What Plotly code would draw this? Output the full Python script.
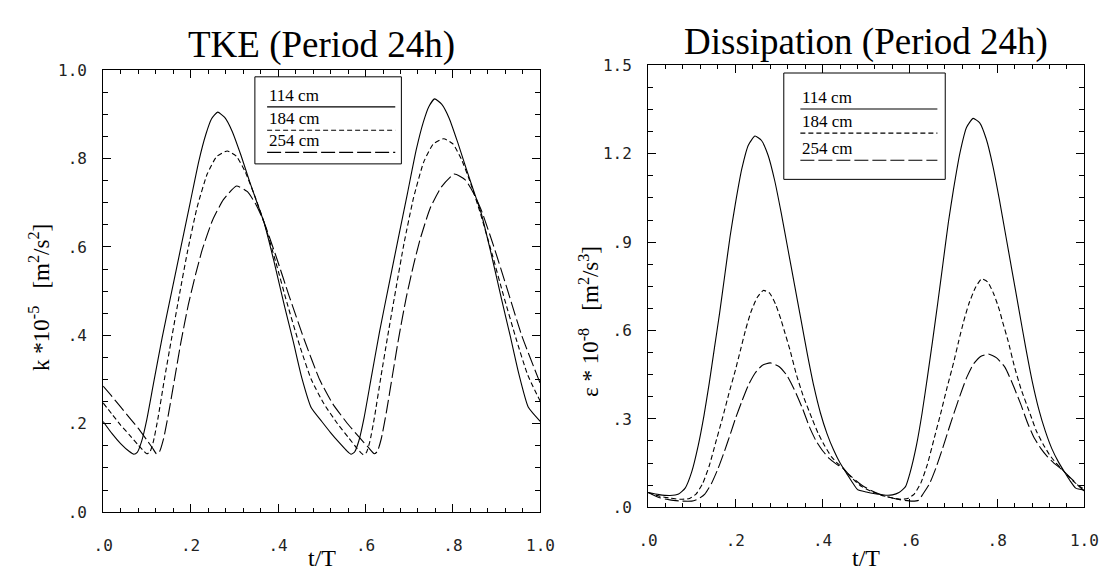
import plotly.graph_objects as go

# ---------------- TKE panel (k * 1e-5 m^2/s^2) ----------------
tke_t_114 = [0.000, 0.020, 0.040, 0.060, 0.070, 0.078, 0.088, 0.100, 0.115, 0.135, 0.157, 0.178, 0.199,
             0.219, 0.235, 0.248, 0.262, 0.278, 0.295, 0.315, 0.335, 0.352, 0.368, 0.390, 0.415, 0.435,
             0.454, 0.476, 0.500, 0.520, 0.540, 0.556, 0.567, 0.575, 0.585, 0.597, 0.612, 0.632, 0.654,
             0.675, 0.696, 0.716, 0.732, 0.745, 0.758, 0.774, 0.791, 0.811, 0.831, 0.848, 0.864, 0.886,
             0.911, 0.931, 0.950, 0.972, 1.000]
tke_114 = [0.205, 0.178, 0.155, 0.137, 0.131, 0.135, 0.160, 0.210, 0.290, 0.395, 0.500, 0.600, 0.700,
           0.795, 0.855, 0.890, 0.905, 0.893, 0.862, 0.808, 0.748, 0.700, 0.655, 0.570, 0.465, 0.385,
           0.305, 0.236, 0.205, 0.180, 0.157, 0.140, 0.131, 0.136, 0.162, 0.215, 0.298, 0.408, 0.517,
           0.620, 0.722, 0.820, 0.882, 0.918, 0.935, 0.923, 0.892, 0.836, 0.775, 0.725, 0.678, 0.590,
           0.482, 0.398, 0.315, 0.238, 0.205]

tke_t_184 = [0.000, 0.020, 0.040, 0.060, 0.080, 0.093, 0.100, 0.107, 0.115, 0.125, 0.140, 0.156, 0.175,
             0.193, 0.215, 0.238, 0.260, 0.284, 0.305, 0.325, 0.345, 0.368, 0.395, 0.420, 0.450, 0.476,
             0.505, 0.536, 0.560, 0.580, 0.595, 0.602, 0.610, 0.620, 0.635, 0.651, 0.670, 0.688, 0.710,
             0.733, 0.755, 0.779, 0.800, 0.820, 0.840, 0.863, 0.890, 0.915, 0.945, 0.971, 1.000]
tke_184 = [0.247, 0.222, 0.197, 0.175, 0.152, 0.138, 0.132, 0.136, 0.160, 0.210, 0.300, 0.390, 0.495,
           0.590, 0.690, 0.765, 0.805, 0.817, 0.805, 0.770, 0.720, 0.656, 0.565, 0.475, 0.375, 0.300,
           0.245, 0.200, 0.170, 0.145, 0.130, 0.135, 0.160, 0.212, 0.305, 0.400, 0.508, 0.608, 0.712,
           0.792, 0.833, 0.845, 0.833, 0.797, 0.745, 0.675, 0.582, 0.492, 0.390, 0.310, 0.250]

tke_t_254 = [0.000, 0.020, 0.040, 0.060, 0.080, 0.100, 0.113, 0.122, 0.129, 0.138, 0.150, 0.164, 0.178,
             0.195, 0.212, 0.227, 0.250, 0.275, 0.305, 0.330, 0.350, 0.368, 0.395, 0.425, 0.460, 0.495,
             0.525, 0.559, 0.585, 0.605, 0.620, 0.627, 0.636, 0.648, 0.662, 0.676, 0.693, 0.710, 0.725,
             0.748, 0.773, 0.803, 0.828, 0.848, 0.866, 0.893, 0.923, 0.957, 1.000]
tke_254 = [0.285, 0.262, 0.238, 0.214, 0.190, 0.163, 0.145, 0.132, 0.137, 0.165, 0.225, 0.305, 0.385,
           0.470, 0.540, 0.595, 0.660, 0.707, 0.738, 0.725, 0.695, 0.656, 0.580, 0.490, 0.390, 0.300,
           0.245, 0.200, 0.170, 0.148, 0.132, 0.137, 0.166, 0.228, 0.312, 0.395, 0.485, 0.560, 0.618,
           0.688, 0.735, 0.765, 0.752, 0.720, 0.680, 0.602, 0.508, 0.400, 0.290]

# ---------------- Dissipation panel (eps * 1e-8 m^2/s^3) ----------------
eps_t_114 = [0.000, 0.025, 0.050, 0.070, 0.085, 0.100, 0.115, 0.128, 0.140, 0.152, 0.164, 0.176, 0.188,
             0.200, 0.215, 0.230, 0.245, 0.260, 0.275, 0.290, 0.305, 0.320, 0.335, 0.350, 0.365, 0.380,
             0.395, 0.410, 0.425, 0.440, 0.455, 0.468, 0.480, 0.500, 0.520, 0.545, 0.560, 0.575, 0.590,
             0.600, 0.615, 0.628, 0.640, 0.652, 0.664, 0.676, 0.688, 0.700, 0.715, 0.730, 0.745, 0.760,
             0.775, 0.790, 0.805, 0.820, 0.835, 0.850, 0.865, 0.880, 0.895, 0.910, 0.925, 0.940, 0.955,
             0.968, 0.980, 1.000]
eps_114 = [0.050, 0.043, 0.040, 0.045, 0.065, 0.120, 0.210, 0.310, 0.420, 0.540, 0.660, 0.790, 0.920,
           1.030, 1.150, 1.230, 1.260, 1.245, 1.195, 1.110, 1.000, 0.880, 0.760, 0.640, 0.520, 0.410,
           0.320, 0.250, 0.195, 0.150, 0.115, 0.085, 0.060, 0.052, 0.046, 0.041, 0.042, 0.050, 0.070,
           0.115, 0.210, 0.320, 0.440, 0.565, 0.695, 0.830, 0.965, 1.080, 1.205, 1.290, 1.320, 1.305,
           1.250, 1.160, 1.045, 0.920, 0.795, 0.670, 0.545, 0.430, 0.335, 0.260, 0.200, 0.155, 0.118,
           0.088, 0.065, 0.058]

eps_t_184 = [0.000, 0.025, 0.050, 0.075, 0.095, 0.110, 0.125, 0.140, 0.155, 0.170, 0.185, 0.200, 0.212,
             0.223, 0.235, 0.250, 0.264, 0.278, 0.292, 0.305, 0.312, 0.325, 0.340, 0.355, 0.376, 0.390,
             0.405, 0.420, 0.435, 0.447, 0.460, 0.475, 0.490, 0.510, 0.530, 0.555, 0.580, 0.595, 0.610,
             0.625, 0.640, 0.655, 0.670, 0.685, 0.700, 0.712, 0.723, 0.735, 0.750, 0.764, 0.778, 0.792,
             0.805, 0.812, 0.825, 0.840, 0.855, 0.876, 0.890, 0.905, 0.920, 0.935, 0.947, 0.960, 0.975,
             0.990, 1.000]
eps_184 = [0.050, 0.038, 0.031, 0.027, 0.030, 0.045, 0.080, 0.140, 0.220, 0.300, 0.385, 0.465, 0.535,
           0.600, 0.660, 0.712, 0.736, 0.728, 0.690, 0.635, 0.600, 0.535, 0.450, 0.380, 0.300, 0.250,
           0.208, 0.172, 0.148, 0.133, 0.110, 0.088, 0.070, 0.055, 0.043, 0.033, 0.027, 0.030, 0.045,
           0.082, 0.145, 0.230, 0.315, 0.405, 0.490, 0.565, 0.630, 0.690, 0.745, 0.775, 0.765, 0.725,
           0.670, 0.632, 0.565, 0.475, 0.400, 0.315, 0.258, 0.215, 0.178, 0.150, 0.132, 0.110, 0.088,
           0.070, 0.062]

eps_t_254 = [0.000, 0.025, 0.050, 0.075, 0.100, 0.115, 0.130, 0.145, 0.160, 0.175, 0.190, 0.200, 0.215,
             0.230, 0.245, 0.262, 0.280, 0.300, 0.318, 0.335, 0.354, 0.370, 0.385, 0.400, 0.415, 0.430,
             0.447, 0.460, 0.475, 0.490, 0.510, 0.530, 0.555, 0.580, 0.605, 0.620, 0.630, 0.645, 0.660,
             0.675, 0.690, 0.700, 0.715, 0.730, 0.745, 0.762, 0.780, 0.798, 0.818, 0.835, 0.854, 0.870,
             0.885, 0.900, 0.915, 0.930, 0.947, 0.960, 0.975, 0.990, 1.000]
eps_254 = [0.050, 0.033, 0.025, 0.021, 0.021, 0.028, 0.045, 0.080, 0.130, 0.190, 0.255, 0.300, 0.360,
           0.415, 0.455, 0.482, 0.490, 0.478, 0.448, 0.400, 0.335, 0.272, 0.225, 0.192, 0.166, 0.148,
           0.132, 0.112, 0.092, 0.075, 0.058, 0.045, 0.033, 0.025, 0.021, 0.024, 0.045, 0.080, 0.135,
           0.200, 0.270, 0.315, 0.380, 0.440, 0.485, 0.512, 0.520, 0.508, 0.475, 0.420, 0.350, 0.285,
           0.235, 0.200, 0.172, 0.150, 0.130, 0.112, 0.090, 0.068, 0.055]

# ---------------- labels / ticks ----------------
series_names = ["114 cm", "184 cm", "254 cm"]
x_tick_vals = [0.0, 0.2, 0.4, 0.6, 0.8, 1.0]
x_tick_text = [".0", ".2", ".4", ".6", ".8", "1.0"]
tke_tick_vals = [0.0, 0.2, 0.4, 0.6, 0.8, 1.0]
tke_tick_text = [".0", ".2", ".4", ".6", ".8", "1.0"]
eps_tick_vals = [0.0, 0.3, 0.6, 0.9, 1.2, 1.5]
eps_tick_text = [".0", ".3", ".6", ".9", "1.2", "1.5"]

W, H = 1110, 576
SERIF = "Liberation Serif"
MONO = "DejaVu Sans Mono"
dashes = ["solid", "5px,3px", "14px,4px"]

fig = go.Figure()

def add_line(t, v, dash, xa, ya):
    fig.add_trace(go.Scatter(
        x=t, y=v, mode="lines", xaxis=xa, yaxis=ya, showlegend=False, hoverinfo="skip",
        line=dict(color="black", width=1.1, dash=dash, shape="spline", smoothing=0.5)))

add_line(tke_t_114, tke_114, dashes[0], "x", "y")
add_line(tke_t_184, tke_184, dashes[1], "x", "y")
add_line(tke_t_254, tke_254, dashes[2], "x", "y")
add_line(eps_t_114, eps_114, dashes[0], "x2", "y2")
add_line(eps_t_184, eps_184, dashes[1], "x2", "y2")
add_line(eps_t_254, eps_254, dashes[2], "x2", "y2")

# pixel frame of each panel
L1, R1, T1, B1 = 87, 534, 55, 512
L2, R2, T2, B2 = 644, 1090, 50, 507

def xaxis_cfg(l, r, anchor):
    return dict(domain=[l / W, r / W], range=[0, 1], anchor=anchor,
                tickvals=x_tick_vals, ticktext=x_tick_text, ticks="inside", ticklen=8,
                tickcolor="black", minor=dict(dtick=0.04, tick0=0, ticks="inside", ticklen=4, tickcolor="black"),
                showline=True, linecolor="black", linewidth=1, mirror="ticks",
                showgrid=False, zeroline=False, ticklabelstandoff=19,
                tickfont=dict(family=MONO, size=16, color="#222"))

def yaxis_cfg(t, b, anchor, rng, vals, text, minor):
    return dict(domain=[1 - b / H, 1 - t / H], range=rng, anchor=anchor,
                tickvals=vals, ticktext=text, ticks="inside", ticklen=8, tickcolor="black",
                minor=dict(dtick=minor, tick0=0, ticks="inside", ticklen=5, tickcolor="black"),
                showline=True, linecolor="black", linewidth=1, mirror="ticks",
                showgrid=False, zeroline=False, ticklabelstandoff=12,
                tickfont=dict(family=MONO, size=16, color="#222"))

fig.update_layout(
    width=W, height=H, margin=dict(l=0, r=0, t=0, b=0),
    paper_bgcolor="white", plot_bgcolor="white",
    xaxis=xaxis_cfg(L1, R1, "y"),
    yaxis=yaxis_cfg(T1, B1, "x", [0, 1], tke_tick_vals, tke_tick_text, 0.05),
    xaxis2=xaxis_cfg(L2, R2, "y2"),
    yaxis2=yaxis_cfg(T2, B2, "x2", [0, 1.5], eps_tick_vals, eps_tick_text, 0.075),
)

ann = []
# titles
ann.append(dict(text="TKE (Period 24h)", x=(L1 + R1) / 2 / W, y=1 - 29 / H, xref="paper", yref="paper",
                showarrow=False, font=dict(family=SERIF, size=37, color="black"), xanchor="center", yanchor="middle"))
ann.append(dict(text="Dissipation (Period 24h)", x=(L2 + R2) / 2 / W, y=1 - 26 / H, xref="paper", yref="paper",
                showarrow=False, font=dict(family=SERIF, size=37, color="black"), xanchor="center", yanchor="middle"))
# x titles
for l, r in [(L1, R1), (L2, R2)]:
    ann.append(dict(text="t/T", x=(l + r) / 2 / W, y=1 - 559 / H, xref="paper", yref="paper",
                    showarrow=False, font=dict(family=SERIF, size=24, color="black"),
                    xanchor="center", yanchor="middle"))
# y titles
ann.append(dict(text="k *10<sup>-5</sup>   [m<sup>2</sup>/s<sup>2</sup>]", x=22 / W, y=1 - 290 / H,
                xref="paper", yref="paper", showarrow=False, textangle=-90,
                font=dict(family=SERIF, size=23, color="black"), xanchor="center", yanchor="middle"))
ann.append(dict(text="ε * 10<sup>-8</sup>   [m<sup>2</sup>/s<sup>3</sup>]", x=584 / W, y=1 - 315 / H,
                xref="paper", yref="paper", showarrow=False, textangle=-90,
                font=dict(family=SERIF, size=23, color="black"), xanchor="center", yanchor="middle"))

shapes = []
# legend boxes (drawn in axis coordinates)
legend_cfg = [
    dict(xr="x", yr="y", box=(0.347, 0.682, 0.788, 0.985), x0=0.375, x1=0.668, ys=[0.917, 0.864, 0.814]),
    dict(xr="x2", yr="y2", box=(0.311, 0.681, 1.113, 1.474), x0=0.349, x1=0.663, ys=[1.352, 1.270, 1.178]),
]
for cfg in legend_cfg:
    bx0, bx1, by0, by1 = cfg["box"]
    shapes.append(dict(type="rect", xref=cfg["xr"], yref=cfg["yr"], x0=bx0, x1=bx1, y0=by0, y1=by1,
                       line=dict(color="black", width=1), fillcolor="white", layer="above"))
    for name, yy, dash in zip(series_names, cfg["ys"], dashes):
        shapes.append(dict(type="line", xref=cfg["xr"], yref=cfg["yr"], x0=cfg["x0"], x1=cfg["x1"],
                           y0=yy, y1=yy, line=dict(color="black", width=1.1, dash=dash), layer="above"))
        ann.append(dict(text=name, x=cfg["x0"], y=yy, xref=cfg["xr"], yref=cfg["yr"], showarrow=False,
                        xanchor="left", yanchor="bottom", yshift=0,
                        font=dict(family=SERIF, size=17, color="black")))

fig.update_layout(annotations=ann, shapes=shapes)
fig.write_html("out.html")
